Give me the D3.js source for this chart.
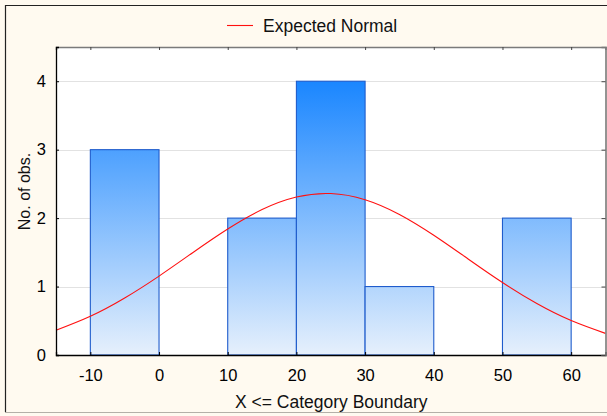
<!DOCTYPE html>
<html>
<head>
<meta charset="utf-8">
<script src="https://cdn.jsdelivr.net/npm/d3@7"></script>
<style>
  html, body { margin: 0; padding: 0; background: #fffaf0; }
  svg { display: block; font-family: Arial, "Liberation Sans", sans-serif; }
</style>
</head>
<body>
<svg id="chart" width="607" height="416"></svg>
<script>
// Histogram bins: lower boundary, upper boundary, count
const binStarts = [-10, 0, 10, 20, 30, 40, 50];
const binEnds   = [0, 10, 20, 30, 40, 50, 60];
const counts    = [3, 0, 2, 4, 1, 0, 2];

// Expected normal curve, sampled every 5 units
const normalX = [-15, -10, -5, 0, 5, 10, 15, 20, 25, 30, 35, 40, 45, 50, 55, 60, 65];
const normalY = [0.362, 0.566, 0.833, 1.153, 1.502, 1.841, 2.125, 2.308, 2.359,
                 2.269, 2.054, 1.750, 1.403, 1.059, 0.752, 0.503, 0.316];

const xTicks = [-10, 0, 10, 20, 30, 40, 50, 60];
const yTicks = [0, 1, 2, 3, 4];

const svg = d3.select("#chart");
const W = 607, H = 416;
const plot = { left: 56, right: 605.5, top: 47, bottom: 355 };

const x = d3.scaleLinear().domain([-15, 65]).range([plot.left, plot.right]);
const y = d3.scaleLinear().domain([0, 4.5]).range([plot.bottom, plot.top]);

// Plain hyphen for negative numbers
const fmt = d => String(d);

// Panel background and frame
svg.append("rect").attr("x", 0).attr("y", 0).attr("width", W).attr("height", H).attr("fill", "#fffaf0");
svg.append("line").attr("x1", 5).attr("x2", W).attr("y1", 5.5).attr("y2", 5.5).attr("stroke", "#222").attr("stroke-width", 1.2);
svg.append("line").attr("x1", 5.5).attr("x2", 5.5).attr("y1", 5).attr("y2", 412).attr("stroke", "#222").attr("stroke-width", 1.2);
svg.append("line").attr("x1", 5).attr("x2", W).attr("y1", 412.5).attr("y2", 412.5).attr("stroke", "#b4b0a8").attr("stroke-width", 1);

// Plot area
svg.append("rect")
  .attr("x", plot.left).attr("y", plot.top)
  .attr("width", plot.right - plot.left).attr("height", plot.bottom - plot.top)
  .attr("fill", "#ffffff");

// Gradient for bars, spanning the value range
const defs = svg.append("defs");
const grad = defs.append("linearGradient")
  .attr("id", "barFill").attr("gradientUnits", "userSpaceOnUse")
  .attr("x1", 0).attr("x2", 0).attr("y1", y(4)).attr("y2", y(0));
grad.append("stop").attr("offset", "0%").attr("stop-color", "#1a86ff");
grad.append("stop").attr("offset", "100%").attr("stop-color", "#e6f0fc");

// Horizontal gridlines
svg.append("g").selectAll("line")
  .data(yTicks.filter(d => d > 0))
  .join("line")
  .attr("x1", plot.left).attr("x2", plot.right)
  .attr("y1", d => Math.round(y(d)) + 0.5).attr("y2", d => Math.round(y(d)) + 0.5)
  .attr("stroke", "#e2e2e2").attr("stroke-width", 1.2);

// Bars
const bins = binStarts.map((s, i) => ({ x0: s, x1: binEnds[i], n: counts[i] }));
svg.append("g").selectAll("rect")
  .data(bins.filter(d => d.n > 0))
  .join("rect")
  .attr("x", d => x(d.x0))
  .attr("y", d => y(d.n))
  .attr("width", d => x(d.x1) - x(d.x0))
  .attr("height", d => y(0) - y(d.n))
  .attr("fill", "url(#barFill)")
  .attr("stroke", "#1f5ccc")
  .attr("stroke-width", 1.1);

// Expected normal curve
const line = d3.line()
  .x((d, i) => x(normalX[i]))
  .y(d => y(d))
  .curve(d3.curveNatural);
svg.append("path")
  .datum(normalY)
  .attr("d", line)
  .attr("fill", "none")
  .attr("stroke", "#ff1010")
  .attr("stroke-width", 1.1);

// Axes (ticks point inward)
const axisBottom = svg.append("g")
  .attr("transform", `translate(0,${plot.bottom})`)
  .call(d3.axisBottom(x).tickValues(xTicks).tickSize(-3).tickPadding(14).tickFormat(fmt));
const axisTop = svg.append("g")
  .attr("transform", `translate(0,${plot.top})`)
  .call(d3.axisTop(x).tickValues(xTicks).tickSize(-3).tickFormat(""));
const axisLeft = svg.append("g")
  .attr("transform", `translate(${plot.left},0)`)
  .call(d3.axisLeft(y).tickValues(yTicks).tickSize(-3).tickPadding(10).tickFormat(fmt));
const axisRight = svg.append("g")
  .attr("transform", `translate(${plot.right},0)`)
  .call(d3.axisRight(y).tickValues(yTicks).tickSize(-4).tickFormat(""));

[axisBottom, axisLeft].forEach(g => {
  g.select(".domain").attr("stroke", "#000").attr("stroke-width", 1.3);
  g.selectAll(".tick line").attr("stroke", "#000");
  g.selectAll(".tick text").attr("fill", "#000").attr("font-size", 16.5)
    .attr("font-family", "Arial, 'Liberation Sans', sans-serif");
});
[axisTop, axisRight].forEach(g => {
  g.select(".domain").attr("stroke", "#7a7a7a").attr("stroke-width", 1.6);
  g.selectAll(".tick line").attr("stroke", "#444");
});

// Axis titles
svg.append("text")
  .attr("x", (plot.left + plot.right) / 2 + 0.5).attr("y", 408)
  .attr("text-anchor", "middle").attr("font-size", 17.5).attr("fill", "#111")
  .text("X <= Category Boundary");
svg.append("text")
  .attr("transform", "translate(30,191.5) rotate(-90)")
  .attr("text-anchor", "middle").attr("font-size", 16).attr("fill", "#111")
  .text("No. of obs.");

// Legend
svg.append("line")
  .attr("x1", 227).attr("x2", 253).attr("y1", 25.5).attr("y2", 25.5)
  .attr("stroke", "#ff1010").attr("stroke-width", 1.1);
svg.append("text")
  .attr("x", 263).attr("y", 32)
  .attr("font-size", 17.5).attr("fill", "#111")
  .text("Expected Normal");
</script>
</body>
</html>
